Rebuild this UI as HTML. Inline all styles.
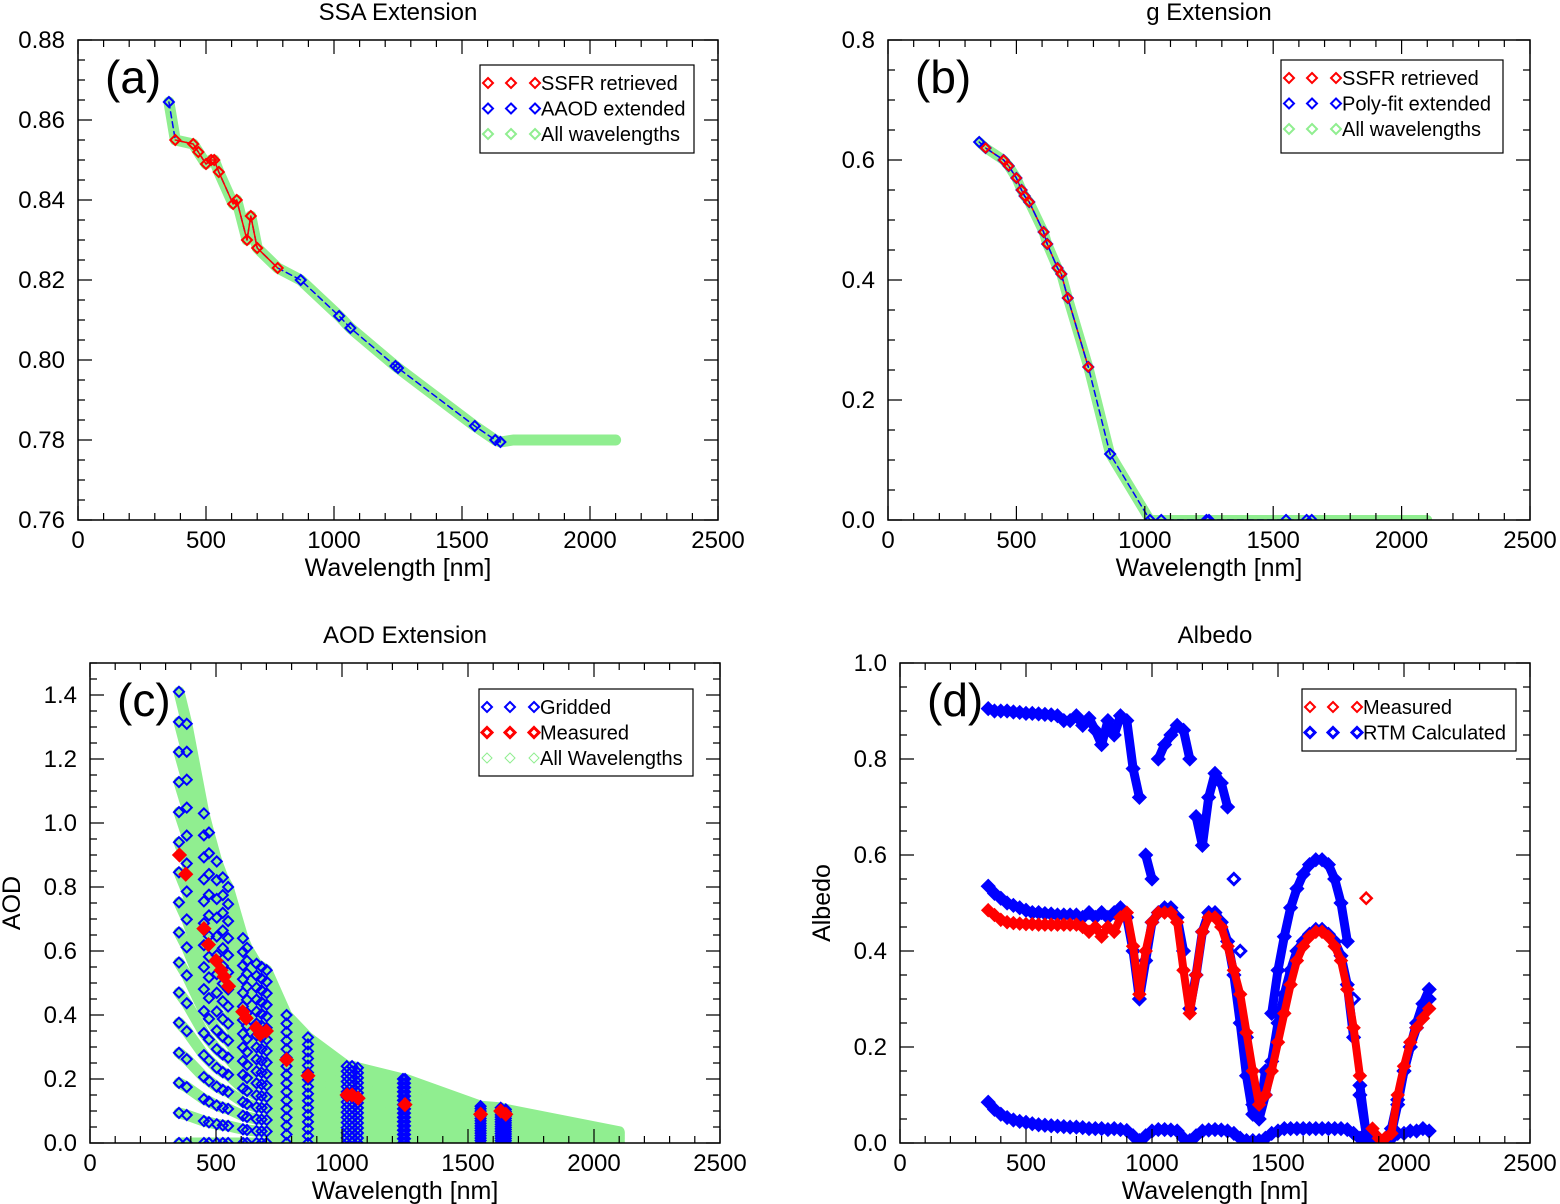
<!DOCTYPE html>
<html><head><meta charset="utf-8"><style>
html,body{margin:0;padding:0;background:#fff;}
svg{display:block;font-family:"Liberation Sans",Arial,sans-serif;}
</style></head><body>
<svg id="fig" width="1560" height="1204" viewBox="0 0 1560 1204" xmlns="http://www.w3.org/2000/svg"></svg>
<script>
// ---- Panel (a) SSA data ----
const ssaRedWl = [380,450,470,500,520,532,550,606,620,660,675,700,780];
const ssaRedVal = [0.855,0.854,0.852,0.849,0.850,0.850,0.847,0.839,0.840,0.830,0.836,0.828,0.823];
const ssaBlueWl = [355,870,1020,1064,1240,1250,1550,1630,1650];
const ssaBlueVal = [0.8645,0.820,0.811,0.808,0.7985,0.798,0.7835,0.780,0.7795];
const ssaExtWl = [1700,1800,1900,2000,2100];
const ssaExtVal = [0.780,0.780,0.780,0.780,0.780];
// ---- Panel (b) g data ----
const gWl = [355,380,450,470,500,520,532,550,606,620,660,675,700,780,865,1020,1064,1240,1250,1550,1630,1650];
const gVal = [0.63,0.62,0.60,0.59,0.57,0.55,0.54,0.53,0.48,0.46,0.42,0.41,0.37,0.255,0.11,0.0,0.0,0.0,0.0,0.0,0.0,0.0];
const gRedWl = [380,450,470,500,520,532,550,606,620,660,675,700,780];
const gRedVal = [0.62,0.60,0.59,0.57,0.55,0.54,0.53,0.48,0.46,0.42,0.41,0.37,0.255];
const gExtWl = [1700,1900,2100];
const gExtVal = [0.0,0.0,0.0];
// ---- Panel (c) AOD data ----
const aodGridWl = [353,384,452,472,503,527,548,607,623,661,681,701,780,865,1019,1040,1063,1242,1250,1550,1630,1650];
const aodTopVal = [1.41,1.31,1.03,0.97,0.88,0.83,0.80,0.64,0.61,0.56,0.55,0.54,0.40,0.33,0.24,0.24,0.235,0.20,0.20,0.115,0.11,0.105];
const aodExtWl = [2100];
const aodExtVal = [0.035];
const aodScales = [0,1,2,3,4,5,6,7,8,9,10,11,12,13,14,15];
const aodMeasWl = [355,380,452,470,500,520,532,550,606,620,660,675,700,780,865,1020,1040,1064,1250,1550,1630,1650];
const aodMeasVal = [0.90,0.84,0.67,0.62,0.57,0.54,0.52,0.49,0.41,0.39,0.36,0.34,0.35,0.26,0.21,0.15,0.15,0.14,0.12,0.09,0.10,0.09];
// ---- Panel (d) Albedo data ----
const albWl = [350,375,400,425,450,475,500,525,550,575,600,625,650,675,700,725,750,775,800,825,850,875,900,925,950,975,1000,1025,1050,1075,1100,1125,1150,1175,1200,1225,1250,1275,1300,1325,1350,1375,1400,1425,1450,1475,1500,1525,1550,1575,1600,1625,1650,1675,1700,1725,1750,1775,1800,1825,1850,1875,1900,1925,1950,1975,2000,2025,2050,2075,2100];
const albTop = [.905,.90,.90,.90,.898,.897,.895,.895,.894,.893,.892,.89,.88,.88,.89,.87,.885,.86,.83,.88,.85,.89,.88,.78,.72,.60,.55,.80,.83,.85,.87,.86,.80,.68,.62,.72,.77,.75,.70,.55,.40,.22,.08,.05,.15,.27,.36,.43,.49,.53,.56,.58,.59,.59,.58,.55,.50,.42,.30,.12,.02,0,0,0,.02,.08,.15,.20,.25,.29,.32];
const albMid = [.535,.52,.51,.50,.495,.49,.485,.48,.48,.478,.477,.475,.475,.475,.475,.47,.48,.47,.48,.47,.48,.49,.47,.40,.30,.38,.46,.48,.49,.49,.47,.40,.28,.35,.44,.48,.48,.46,.42,.35,.25,.14,.06,.05,.10,.17,.25,.31,.36,.40,.42,.435,.445,.445,.435,.42,.39,.33,.22,.10,.02,0,0,0,.03,.09,.15,.20,.24,.27,.30];
const albLow = [.085,.07,.06,.053,.048,.045,.043,.04,.038,.037,.036,.035,.034,.033,.033,.032,.03,.03,.03,.028,.03,.028,.026,.015,.005,.015,.025,.028,.028,.027,.025,.01,.005,.015,.025,.027,.028,.027,.025,.02,.01,.005,.005,.005,.01,.02,.025,.03,.03,.03,.03,.03,.03,.03,.03,.03,.03,.028,.02,.01,.005,.005,.005,.005,.01,.02,.02,.025,.025,.03,.025];
const albMeas = [.485,.475,.465,.46,.458,.457,.456,.456,.455,.455,.455,.455,.455,.455,.455,.45,.44,.45,.43,.45,.44,.47,.48,.41,.31,.40,.46,.48,.48,.48,.46,.36,.27,.35,.44,.47,.47,.45,.41,.36,.31,.23,.15,.08,.10,.15,.21,.27,.33,.38,.41,.43,.44,.44,.43,.41,.38,.32,.24,.14,.51,.03,.01,.01,.02,.10,.16,.21,.24,.26,.28];

const NS = "http://www.w3.org/2000/svg";
const fig = document.getElementById('fig');
function mk(tag, attrs, parent){ const e=document.createElementNS(NS,tag); for(const k in attrs) e.setAttribute(k,attrs[k]); (parent||fig).appendChild(e); return e; }

function makeAxes(c){
  const g = mk('g',{});
  
  
  c.sx = v => c.x0 + (v - c.xmin)/(c.xmax-c.xmin)*(c.x1-c.x0);
  c.sy = v => c.y1 - (v - c.ymin)/(c.ymax-c.ymin)*(c.y1-c.y0);
  c.g = g;
  const cp = mk('clipPath',{id:c.id+'clip'},g);
  mk('rect',{x:c.x0,y:c.y0-8,width:c.x1-c.x0+8,height:c.y1-c.y0+8},cp);
  c.plot = mk('g',{'clip-path':'url(#'+c.id+'clip)'},g);
  
  
  return c;
}
function finishAxes(c){
  const g=c.g;
  const frame = mk('rect',{x:c.x0,y:c.y0,width:c.x1-c.x0,height:c.y1-c.y0,fill:'none',stroke:'#000','stroke-width':1.5},g);
  
  
  let d='';
  for(let v=c.xmin; v<=c.xmax+1e-6; v+=100){
    const x=c.sx(v); const L=(Math.round(v)%500===0)?14:7;
    d+=`M${x},${c.y1}v${-L}M${x},${c.y0}v${L}`;
  }
  const nMinor=Math.round((c.ymax-c.ymin)/c.yMinor);
  for(let i=0;i<=nMinor;i++){
    const v=c.ymin+i*c.yMinor; const y=c.sy(v);
    const r=(v-c.ymin)/c.yMajor; const L=Math.abs(r-Math.round(r))<1e-6?14:7;
    d+=`M${c.x0},${y}h${L}M${c.x1},${y}h${-L}`;
  }
  const ticks=mk('path',{d:d,stroke:'#000','stroke-width':1.2,fill:'none'},g);
  
  
  for(let v=0; v<=2500; v+=500){
    const t=mk('text',{x:c.sx(v),y:c.y1+28,'font-size':24,'text-anchor':'middle'},g); t.textContent=v;
    
    
  }
  const nMaj=Math.round((c.yTop-c.ymin)/c.yMajor);
  for(let i=0;i<=nMaj;i++){
    const v=c.ymin+i*c.yMajor;
    const t=mk('text',{x:c.x0-13,y:c.sy(v)+8,'font-size':24,'text-anchor':'end'},g); t.textContent=v.toFixed(c.dec);
    
    
  }
  const xt=mk('text',{x:(c.x0+c.x1)/2,y:c.y1+56,'font-size':25,'text-anchor':'middle'},g); xt.textContent='Wavelength [nm]';
  
  
  const tt=mk('text',{x:(c.x0+c.x1)/2,y:c.y0-20,'font-size':24,'text-anchor':'middle'},g); tt.textContent=c.title;
  
  
  if(c.ytitle){
    const yt=mk('text',{x:0,y:0,'font-size':25,'text-anchor':'middle',transform:`translate(${c.ytx},${(c.y0+c.y1)/2}) rotate(-90)`},g); yt.textContent=c.ytitle;
    
    
  }
  const pl=mk('text',{x:c.x0+27,y:c.y0+53,'font-size':46},g); pl.textContent=c.letter;
  
  
}
function diamond(parent,x,y,r,color,sw,fill){
  return mk('path',{d:`M${x},${y-r}L${x+r},${y}L${x},${y+r}L${x-r},${y}Z`,fill:fill||'none',stroke:color,'stroke-width':sw},parent);
}
function poly(c,wl,val,color,w,dash){
  const pts=wl.map((v,i)=>c.sx(v).toFixed(1)+','+c.sy(val[i]).toFixed(1)).join(' ');
  const p=mk('polyline',{points:pts,fill:'none',stroke:color,'stroke-width':w,'stroke-linejoin':'round','stroke-linecap':'round'},c.plot);
  if(dash) p.setAttribute('stroke-dasharray',dash);
  return p;
}
function bandSegments(c,wl,val,color,w){
  let d='';
  for(let i=1;i<wl.length;i++){
    if(Math.abs(val[i]-val[i-1])<0.12){
      d+=`M${c.sx(wl[i-1]).toFixed(1)},${c.sy(val[i-1]).toFixed(1)}L${c.sx(wl[i]).toFixed(1)},${c.sy(val[i]).toFixed(1)}`;
    }
  }
  return mk('path',{d:d,fill:'none',stroke:color,'stroke-width':w,'stroke-linecap':'round'},c.plot);
}
function legend(c,x,y,w,h,rows){
  const lg=mk('g',{},c.g);
  
  
  mk('rect',{x:x,y:y,width:w,height:h,fill:'#fff',stroke:'#000','stroke-width':1.2},lg);
  rows.forEach((r,i)=>{
    const ry=y+18+i*25.5;
    const e=mk('g',{},lg);
    
    
    [8,31,55].forEach(dx=>diamond(e,x+dx,ry,5,r.color,r.sw||2,r.fill));
    const t=mk('text',{x:x+61,y:ry+7,'font-size':20},e); t.textContent=r.label;
  });
}
const GREEN='#90ee90', BLUE='#0000ff', RED='#ff0000';

// ---- Panel A ----
const A=makeAxes({id:'a',name:'panel-a-ssa',x0:78,x1:718,y0:40,y1:520,xmin:0,xmax:2500,ymin:0.76,ymax:0.88,yTop:0.88,yMajor:0.02,yMinor:0.005,dec:2,title:'SSA Extension',letter:'(a)'});
{
  const all=[]; ssaRedWl.forEach((w,i)=>all.push([w,ssaRedVal[i]])); ssaBlueWl.forEach((w,i)=>all.push([w,ssaBlueVal[i]]));
  all.sort((p,q)=>p[0]-q[0]);
  const gw=all.map(p=>p[0]).concat(ssaExtWl), gv=all.map(p=>p[1]).concat(ssaExtVal);
  const gl=poly(A,gw,gv,GREEN,11);
  
  const bl=poly(A,all.map(p=>p[0]),all.map(p=>p[1]),BLUE,1.5,'6,4');
  
  const rl=poly(A,ssaRedWl,ssaRedVal,RED,1.5);
  
  ssaBlueWl.forEach((w,i)=>{ const m=diamond(A.plot,A.sx(w),A.sy(ssaBlueVal[i]),5,BLUE,2);
     });
  ssaRedWl.forEach((w,i)=>{ const m=diamond(A.plot,A.sx(w),A.sy(ssaRedVal[i]),5,RED,2);
     });
}
finishAxes(A);
legend(A,480,65,214,88,[{color:RED,label:'SSFR retrieved'},{color:BLUE,label:'AAOD extended'},{color:GREEN,label:'All wavelengths'}]);

// ---- Panel B ----
const B=makeAxes({id:'b',name:'panel-b-g',x0:888,x1:1530,y0:40,y1:520,xmin:0,xmax:2500,ymin:0,ymax:0.8,yTop:0.8,yMajor:0.2,yMinor:0.05,dec:1,title:'g Extension',letter:'(b)'});
{
  const gl=poly(B,gWl.concat(gExtWl),gVal.concat(gExtVal),GREEN,10);
  
  const rl=poly(B,gRedWl,gRedVal,RED,1.5);
  
  const bl=poly(B,gWl,gVal,BLUE,1.5,'6,4');
  
  gWl.forEach((w,i)=>{ const m=diamond(B.plot,B.sx(w),B.sy(gVal[i]),5,BLUE,2);
     });
  gRedWl.forEach((w,i)=>{ const m=diamond(B.plot,B.sx(w),B.sy(gRedVal[i]),4.5,RED,2);
     });
}
finishAxes(B);
legend(B,1281,60,222,93,[{color:RED,label:'SSFR retrieved'},{color:BLUE,label:'Poly-fit extended'},{color:GREEN,label:'All wavelengths'}]);

// ---- Panel C ----
const C=makeAxes({id:'c',name:'panel-c-aod',x0:90,x1:720,y0:663,y1:1143,xmin:0,xmax:2500,ymin:0,ymax:1.5,yTop:1.4,yMajor:0.2,yMinor:0.05,dec:1,title:'AOD Extension',letter:'(c)',ytitle:'AOD',ytx:20});
{
  const gw=aodGridWl.concat(aodExtWl), gt=aodTopVal.concat(aodExtVal);
  aodScales.forEach(k=>{
    const l=poly(C,gw,gt.map(v=>v*k/15),GREEN,11);
    
  });
  aodScales.forEach(k=>{
    aodGridWl.forEach((w,i)=>{ const m=diamond(C.plot,C.sx(w),C.sy(aodTopVal[i]*k/15),5,BLUE,2);
       });
  });
  aodMeasWl.forEach((w,i)=>{ const m=diamond(C.plot,C.sx(w),C.sy(aodMeasVal[i]),5.5,RED,3,RED);
     });
}
finishAxes(C);
legend(C,479,689,214,87,[{color:BLUE,label:'Gridded'},{color:RED,label:'Measured',sw:3},{color:GREEN,label:'All Wavelengths',sw:1}]);

// ---- Panel D ----
const D=makeAxes({id:'d',name:'panel-d-albedo',x0:900,x1:1530,y0:663,y1:1143,xmin:0,xmax:2500,ymin:0,ymax:1.0,yTop:1.0,yMajor:0.2,yMinor:0.05,dec:1,title:'Albedo',letter:'(d)',ytitle:'Albedo',ytx:830});
{
  [albTop,albMid,albLow].forEach(ser=>{
    const b=bandSegments(D,albWl,ser,BLUE,9);
    
    albWl.forEach((w,i)=>{ const m=diamond(D.plot,D.sx(w),D.sy(ser[i]),5.5,BLUE,3);
       });
  });
  const rb=bandSegments(D,albWl,albMeas,RED,8);
  
  albWl.forEach((w,i)=>{ const m=diamond(D.plot,D.sx(w),D.sy(albMeas[i]),5.5,RED,2.5);
     });
}
finishAxes(D);
legend(D,1302,689,214,62,[{color:RED,label:'Measured'},{color:BLUE,label:'RTM Calculated',sw:3}]);
</script>
</body></html>
